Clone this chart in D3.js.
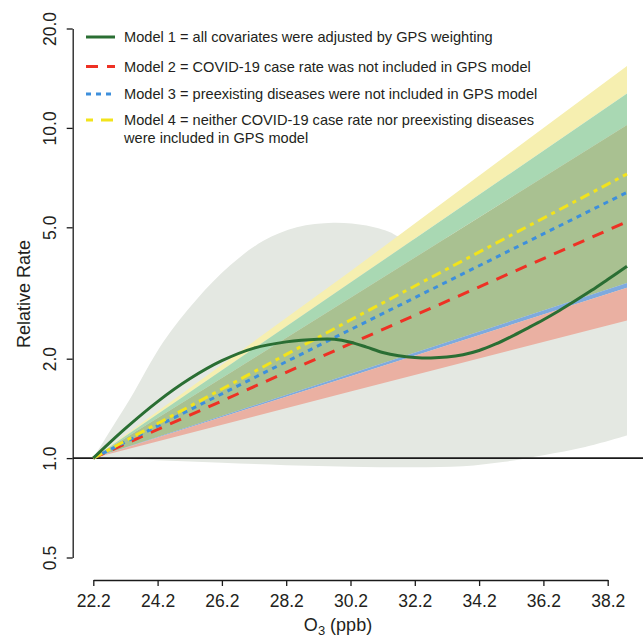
<!DOCTYPE html>
<html><head><meta charset="utf-8">
<script src="https://cdn.jsdelivr.net/npm/d3@7"></script>
<style>
html,body{margin:0;padding:0;background:#fff;}
svg{display:block;font-family:"Liberation Sans",Arial,Helvetica,sans-serif;}
</style></head>
<body>
<svg id="chart" width="643" height="640"></svg>
<script>
// ---------------- data ----------------
const xTicks = [22.2, 24.2, 26.2, 28.2, 30.2, 32.2, 34.2, 36.2, 38.2];
const yTicks = [0.5, 1, 2, 5, 10, 20];

// straight (log-linear) models, read at three ozone levels
const bandX = [22.2, 30.2, 38.8];
const model2 = [1, 2.22, 5.2];
const model3 = [1, 2.45, 6.38];
const model4 = [1, 2.62, 7.25];
const upper4 = [1, 3.68, 15.4];
const upper3 = [1, 3.40, 12.7];
const upper2 = [1, 3.06, 10.2];
const lower4 = [1, 1.80, 3.39];
const lower3 = [1, 1.77, 3.28];
const lower2 = [1, 1.59, 2.61];

// model 1 (GPS weighted, non-linear)
const m1X = [22.2, 23.2, 24.2, 25.2, 26.2, 27.2, 28.2, 29.2, 29.7, 30.2, 30.7, 31.2, 31.7, 32.2, 32.7, 33.2, 33.7, 34.2, 34.7, 35.2, 35.7, 36.2, 36.7, 37.2, 37.7, 38.2, 38.8];
const m1Y = [1.0, 1.23, 1.483, 1.738, 1.972, 2.153, 2.249, 2.291, 2.29, 2.244, 2.168, 2.089, 2.042, 2.018, 2.011, 2.023, 2.056, 2.118, 2.213, 2.333, 2.472, 2.624, 2.799, 2.999, 3.221, 3.475, 3.811];

// model 1 confidence band
const g1UpX = [22.2, 22.7, 23.34, 24.37, 25.42, 26.45, 27.49, 28.53, 29.66, 30.70, 31.43, 31.74, 33.0, 34.5, 36.5, 38.8];
const g1Up  = [1.0, 1.2, 1.51, 2.245, 3.03, 3.83, 4.55, 5.0, 5.16, 5.06, 4.83, 4.67, 4.6, 5.5, 7.8, 12.4];
const g1LoX = [22.2, 24.2, 26.2, 28.2, 30.2, 32.2, 33.7, 35.0, 36.2, 37.5, 38.8];
const g1Lo  = [1.0, 0.985, 0.968, 0.952, 0.942, 0.938, 0.945, 0.975, 1.02, 1.08, 1.17];

const legendLabels = [
  ["Model 1 = all covariates were adjusted by GPS weighting"],
  ["Model 2 = COVID-19 case rate was not included in GPS model"],
  ["Model 3 = preexisting diseases were not included in GPS model"],
  ["Model 4 = neither COVID-19 case rate nor preexisting diseases", "were included in GPS model"]
];

// ---------------- drawing ----------------
const svg = d3.select("#chart");
const x = d3.scaleLinear().domain([22.2, 38.2]).range([93.3, 607.7]);
const y = d3.scaleLog().domain([0.5, 20]).range([557.5, 28.5]);
const axisX = 72.7, axisY = 580;

svg.append("clipPath").attr("id", "plotclip").append("rect")
  .attr("x", axisX).attr("y", 0).attr("width", 643 - axisX).attr("height", 575);

const plot = svg.append("g").attr("clip-path", "url(#plotclip)");

// grey band (model 1 CI)
const smooth = d3.curveCatmullRom.alpha(0.5);
const greyTop = g1UpX.map((v, i) => [x(v), y(g1Up[i])]);
const greyBot = g1LoX.map((v, i) => [x(v), y(g1Lo[i])]).reverse();
const lineGen = d3.line().curve(smooth);
const topPath = lineGen(greyTop);
const botPath = lineGen(greyBot);
const greyPoly = topPath + "L" + botPath.slice(1) + "Z";
plot.append("path").attr("d", greyPoly).attr("fill", "#e4e8e2");

// colored overlapping bands as stacked regions
function region(a, b, col) {
  const area = d3.area()
    .x((d, i) => x(bandX[i]))
    .y0((d, i) => y(b[i]))
    .y1((d, i) => y(a[i]));
  plot.append("path").datum(bandX).attr("d", area).attr("fill", col);
}
region(upper4, upper3, "#f6efb0");
region(upper3, upper2, "#a9d8b3");
region(upper2, lower4, "#a9c191");
region(lower4, lower3, "#7eaade");
region(lower3, lower2, "#eab0a2");

// reference line at RR = 1
plot.append("line").attr("x1", axisX).attr("x2", 643)
  .attr("y1", y(1)).attr("y2", y(1))
  .attr("stroke", "#1a1a1a").attr("stroke-width", 1.6);

// model lines
const straight = d3.line().x((d, i) => x(bandX[i])).y(d => y(d));
plot.append("path").datum(model2).attr("d", straight)
  .attr("fill", "none").attr("stroke", "#ee3124").attr("stroke-width", 3)
  .attr("stroke-dasharray", "12,9");
plot.append("path").datum(model3).attr("d", straight)
  .attr("fill", "none").attr("stroke", "#3d8fdc").attr("stroke-width", 3)
  .attr("stroke-dasharray", "5,5");
plot.append("path").datum(model4).attr("d", straight)
  .attr("fill", "none").attr("stroke", "#f2e31b").attr("stroke-width", 3)
  .attr("stroke-dasharray", "10,5,4,5");
const curve1 = d3.line().curve(smooth).x((d, i) => x(m1X[i])).y(d => y(d));
plot.append("path").datum(m1Y).attr("d", curve1)
  .attr("fill", "none").attr("stroke", "#2a6e33").attr("stroke-width", 3);

// axes
const tickFont = 17.5;
const gx = svg.append("g").attr("transform", `translate(0,${axisY})`)
  .call(d3.axisBottom(x).tickValues(xTicks).tickFormat(d3.format(".1f")).tickSize(6).tickSizeOuter(0));
gx.select(".domain").attr("stroke", "#1a1a1a").attr("stroke-width", 1.3);
gx.selectAll(".tick line").attr("stroke", "#1a1a1a").attr("stroke-width", 1.3);
gx.selectAll(".tick text").attr("font-size", tickFont).attr("fill", "#231f20")
  .attr("font-family", "Liberation Sans, Arial, sans-serif")
  .attr("y", 27).attr("dy", 0);

const gy = svg.append("g").attr("transform", `translate(${axisX},0)`)
  .call(d3.axisLeft(y).tickValues(yTicks).tickFormat(d3.format(".1f")).tickSize(6).tickSizeOuter(0));
gy.select(".domain").attr("stroke", "#1a1a1a").attr("stroke-width", 1.3);
gy.selectAll(".tick line").attr("stroke", "#1a1a1a").attr("stroke-width", 1.3);
gy.selectAll(".tick text").attr("font-size", tickFont).attr("fill", "#231f20")
  .attr("font-family", "Liberation Sans, Arial, sans-serif")
  .attr("transform", "rotate(-90)").attr("x", 0).attr("y", -17).attr("dy", 0)
  .attr("text-anchor", "middle");

// axis titles
svg.append("text").attr("transform", "translate(30,294) rotate(-90)")
  .attr("text-anchor", "middle").attr("font-size", 18).attr("fill", "#231f20")
  .text("Relative Rate");
const xt = svg.append("text").attr("x", 338).attr("y", 631)
  .attr("text-anchor", "middle").attr("font-size", 18).attr("fill", "#231f20");
xt.append("tspan").text("O");
xt.append("tspan").attr("font-size", 13).attr("dy", 4).text("3");
xt.append("tspan").attr("dy", -4).text(" (ppb)");

// legend
const legY = [37, 66.5, 94, 120];
const legStyles = [
  {c: "#2a6e33", d: null},
  {c: "#ee3124", d: "12,9"},
  {c: "#3d8fdc", d: "5,5"},
  {c: "#f2e31b", d: "7,8,12,6"}
];
const leg = svg.append("g");
legendLabels.forEach((lines, i) => {
  leg.append("line").attr("x1", 86).attr("x2", 115).attr("y1", legY[i]).attr("y2", legY[i])
    .attr("stroke", legStyles[i].c).attr("stroke-width", 3)
    .attr("stroke-dasharray", legStyles[i].d);
  lines.forEach((t, j) => {
    leg.append("text").attr("x", 124).attr("y", legY[i] + 5 + j * 17.5)
      .attr("font-size", 14.6).attr("fill", "#231f20").text(t);
  });
});
</script>
</body></html>
